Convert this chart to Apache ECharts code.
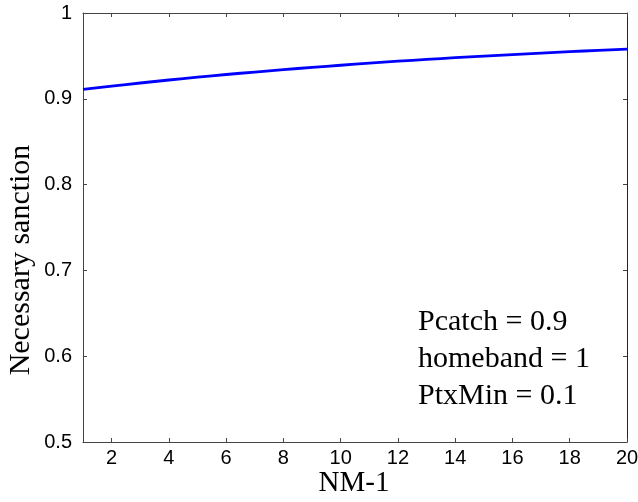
<!DOCTYPE html>
<html>
<head>
<meta charset="utf-8">
<script src="https://cdn.jsdelivr.net/npm/echarts@6/dist/echarts.min.js"></script>
<style>
  html, body { margin: 0; padding: 0; background: #fff; }
  #chart { width: 638px; height: 502px; }
</style>
</head>
<body>
<div id="chart"></div>
<script>
// Number of other members (NM-1) on the horizontal axis
const nmValues = [1, 2, 3, 4, 5, 6, 7, 8, 9, 10, 11, 12, 13, 14, 15, 16, 17, 18, 19, 20];
// Necessary sanction for each NM-1
const sanctionValues = [0.9110, 0.9148, 0.9184, 0.9219, 0.9252, 0.9283, 0.9312, 0.9340, 0.9366, 0.9391,
                        0.9415, 0.9438, 0.9459, 0.9479, 0.9498, 0.9516, 0.9533, 0.9549, 0.9565, 0.9580];
// Tick positions
const xTickValues = [2, 4, 6, 8, 10, 12, 14, 16, 18, 20];
const yTickValues = [0.5, 0.6, 0.7, 0.8, 0.9, 1];
// Parameter annotations
const annotationLines = ['Pcatch = 0.9', 'homeband = 1', 'PtxMin = 0.1'];
const xTitle = 'NM-1';
const yTitle = 'Necessary sanction';

const sansFont = '"Liberation Sans", Arial, Helvetica, sans-serif';
const serifFont = '"Liberation Serif", "Times New Roman", Times, serif';
const axisColor = '#444';

const chart = echarts.init(document.getElementById('chart'), null, { renderer: 'canvas' });

const tickStyle = { show: true, inside: true, length: 4, lineStyle: { color: axisColor, width: 1 } };

const option = {
  animation: false,
  backgroundColor: '#fff',
  grid: { left: 83, right: 11, top: 13, bottom: 60, containLabel: false, outerBoundsMode: 'none' },
  xAxis: [
    {
      type: 'value', position: 'bottom', min: 1, max: 20,
      axisLine: { show: true, onZero: false, lineStyle: { color: axisColor, width: 1 } },
      axisTick: Object.assign({ customValues: xTickValues }, tickStyle),
      axisLabel: { customValues: xTickValues, color: '#000', fontSize: 20, fontFamily: sansFont, margin: 6 },
      splitLine: { show: false }
    },
    {
      type: 'value', position: 'top', min: 1, max: 20,
      axisLine: { show: true, onZero: false, lineStyle: { color: axisColor, width: 1 } },
      axisTick: Object.assign({ customValues: xTickValues }, tickStyle),
      axisLabel: { show: false },
      splitLine: { show: false }
    }
  ],
  yAxis: [
    {
      type: 'value', position: 'left', min: 0.5, max: 1,
      axisLine: { show: true, onZero: false, lineStyle: { color: axisColor, width: 1 } },
      axisTick: Object.assign({ customValues: yTickValues }, tickStyle),
      axisLabel: { customValues: yTickValues, color: '#000', fontSize: 20, fontFamily: sansFont, margin: 11 },
      splitLine: { show: false }
    },
    {
      type: 'value', position: 'right', min: 0.5, max: 1,
      axisLine: { show: true, onZero: false, lineStyle: { color: '#222', width: 1 } },
      axisTick: Object.assign({ customValues: yTickValues }, tickStyle),
      axisLabel: { show: false },
      splitLine: { show: false }
    }
  ],
  series: [
    {
      type: 'line',
      xAxisIndex: 0,
      yAxisIndex: 0,
      data: nmValues.map((n, i) => [n, sanctionValues[i]]),
      showSymbol: false,
      smooth: true,
      lineStyle: { color: '#0000ff', width: 2.8 },
      silent: true
    }
  ],
  graphic: [
    {
      type: 'text', x: 354, y: 483,
      style: { text: xTitle, font: '29px ' + serifFont, fill: '#000', align: 'center', verticalAlign: 'middle' }
    },
    {
      type: 'text', x: 21, y: 260, rotation: Math.PI / 2,
      style: { text: yTitle, font: '30px ' + serifFont, fill: '#000', align: 'center', verticalAlign: 'middle' }
    }
  ].concat(annotationLines.map((t, i) => ({
    type: 'text', x: 418, y: 322.5 + i * 37,
    style: { text: t, font: '30px ' + serifFont, fill: '#000', align: 'left', verticalAlign: 'middle' }
  })))
};

chart.setOption(option);
</script>
</body>
</html>
